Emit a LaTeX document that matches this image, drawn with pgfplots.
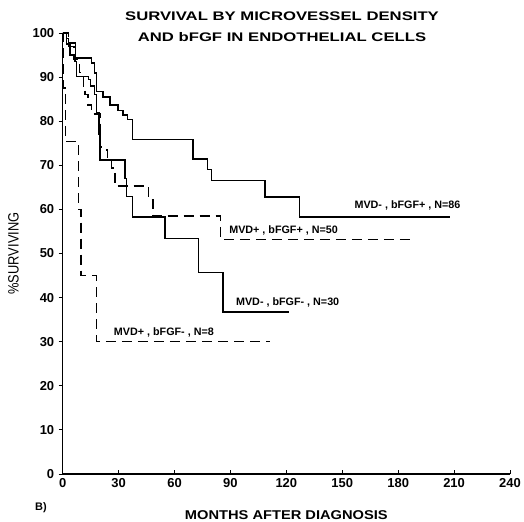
\documentclass[border=0pt]{standalone}
\usepackage{fontspec}
\setmainfont{Liberation Sans}
\usepackage{graphicx}
\usepackage{pgfplots}
\pgfplotsset{compat=1.18}

\begin{document}
\begin{tikzpicture}
\begin{axis}[
  scale only axis,
  width=447.3bp, height=441bp,
  xmin=0, xmax=240, ymin=0, ymax=100,
  axis lines=left,
  axis line style={line width=1.3pt,-},
  xtick={0,30,...,240},
  ytick={0,10,...,100},
  tick style={black,line width=0.9pt},
  xtick align=inside,
  ytick align=outside,
  major tick length=4bp,
  tick label style={font=\fontsize{13}{14}\bfseries},
  /pgf/number format/assume math mode=true,
  xticklabel style={yshift=-1bp},
  yticklabel style={xshift=-1bp},
  xlabel={\scalebox{1.15}[1]{MONTHS AFTER DIAGNOSIS}},
  xlabel style={font=\fontsize{12.8}{14}\bfseries, yshift=-16bp},
  ylabel={\scalebox{0.86}[1]{\%SURVIVING}},
  ylabel style={font=\fontsize{15}{16}\selectfont, yshift=7bp},
  clip=false,
]
% MVD-, bFGF+, N=86
\addplot[const plot, black, line width=1.4pt] coordinates {
 (0,100) (2,98.8) (3,97.7) (7,94.3) (11,94.3) (15.5,93.2) (17.2,90.9)
 (18,86.7) (21.7,85.5) (25.4,83.7) (29.6,82.4) (32.3,81.4) (34.8,80.4)
 (37.5,75.9) (70,71.4) (77.7,69.1) (79.8,66.5) (108.5,62.8) (127.2,58.3) (208,58.3)};
% MVD-, bFGF-, N=30
\addplot[const plot, black, line width=1.4pt] coordinates {
 (0,100) (2,97.5) (4,95) (6.6,93.5) (7.5,90.1) (13.8,89.5) (15,88) (17,86)
 (18,82) (19.5,77) (20,71.2) (33.4,67) (34.3,62.9) (37.5,58.3) (54.8,53.4)
 (73,45.7) (86,36.7) (121.4,36.7)};
% MVD+, bFGF+, N=50
\addplot[const plot, black, line width=1.3pt, dash pattern=on 10bp off 6bp] coordinates {
 (0,100) (3,97) (6,94) (9,91) (11,88) (12,86) (13.6,83.7) (15.4,81.6)
 (20,74.2) (21,73.5) (24,71) (26,69.4) (28,65.3) (45.9,62.1) (48.5,58.5)
 (84.8,53.1) (186.6,53.1)};
% MVD+, bFGF-, N=8
\addplot[const plot, black, line width=1.3pt, dash pattern=on 10bp off 6bp] coordinates {
 (0,100) (0.5,87.5) (1.5,75.4) (8.5,60) (9.8,45) (18,30) (111,30)};

\node[font=\fontsize{10.8}{12}\bfseries] at (axis cs:185,61) {MVD- , bFGF+ , N=86};
\node[font=\fontsize{10.8}{12}\bfseries] at (axis cs:118.5,55.3) {MVD+ , bFGF+ , N=50};
\node[font=\fontsize{10.8}{12}\bfseries] at (axis cs:120.7,38.8) {MVD- , bFGF- , N=30};
\node[font=\fontsize{10.8}{12}\bfseries] at (axis cs:54.3,32.2) {MVD+ , bFGF- , N=8};
\end{axis}
\node[font=\fontsize{12.5}{21}\bfseries, align=center] at (219.3bp,447.5bp)
  {\scalebox{1.34}[1]{SURVIVAL BY MICROVESSEL DENSITY}\\
   \scalebox{1.34}[1]{AND bFGF IN ENDOTHELIAL CELLS}};
\node[font=\fontsize{11}{12}\bfseries] at (-21.7bp,-34bp) {B)};
\pgfresetboundingbox
\path[use as bounding box] (-62.7bp,-48bp) rectangle (461.3bp,474bp);
\end{tikzpicture}
\end{document}
